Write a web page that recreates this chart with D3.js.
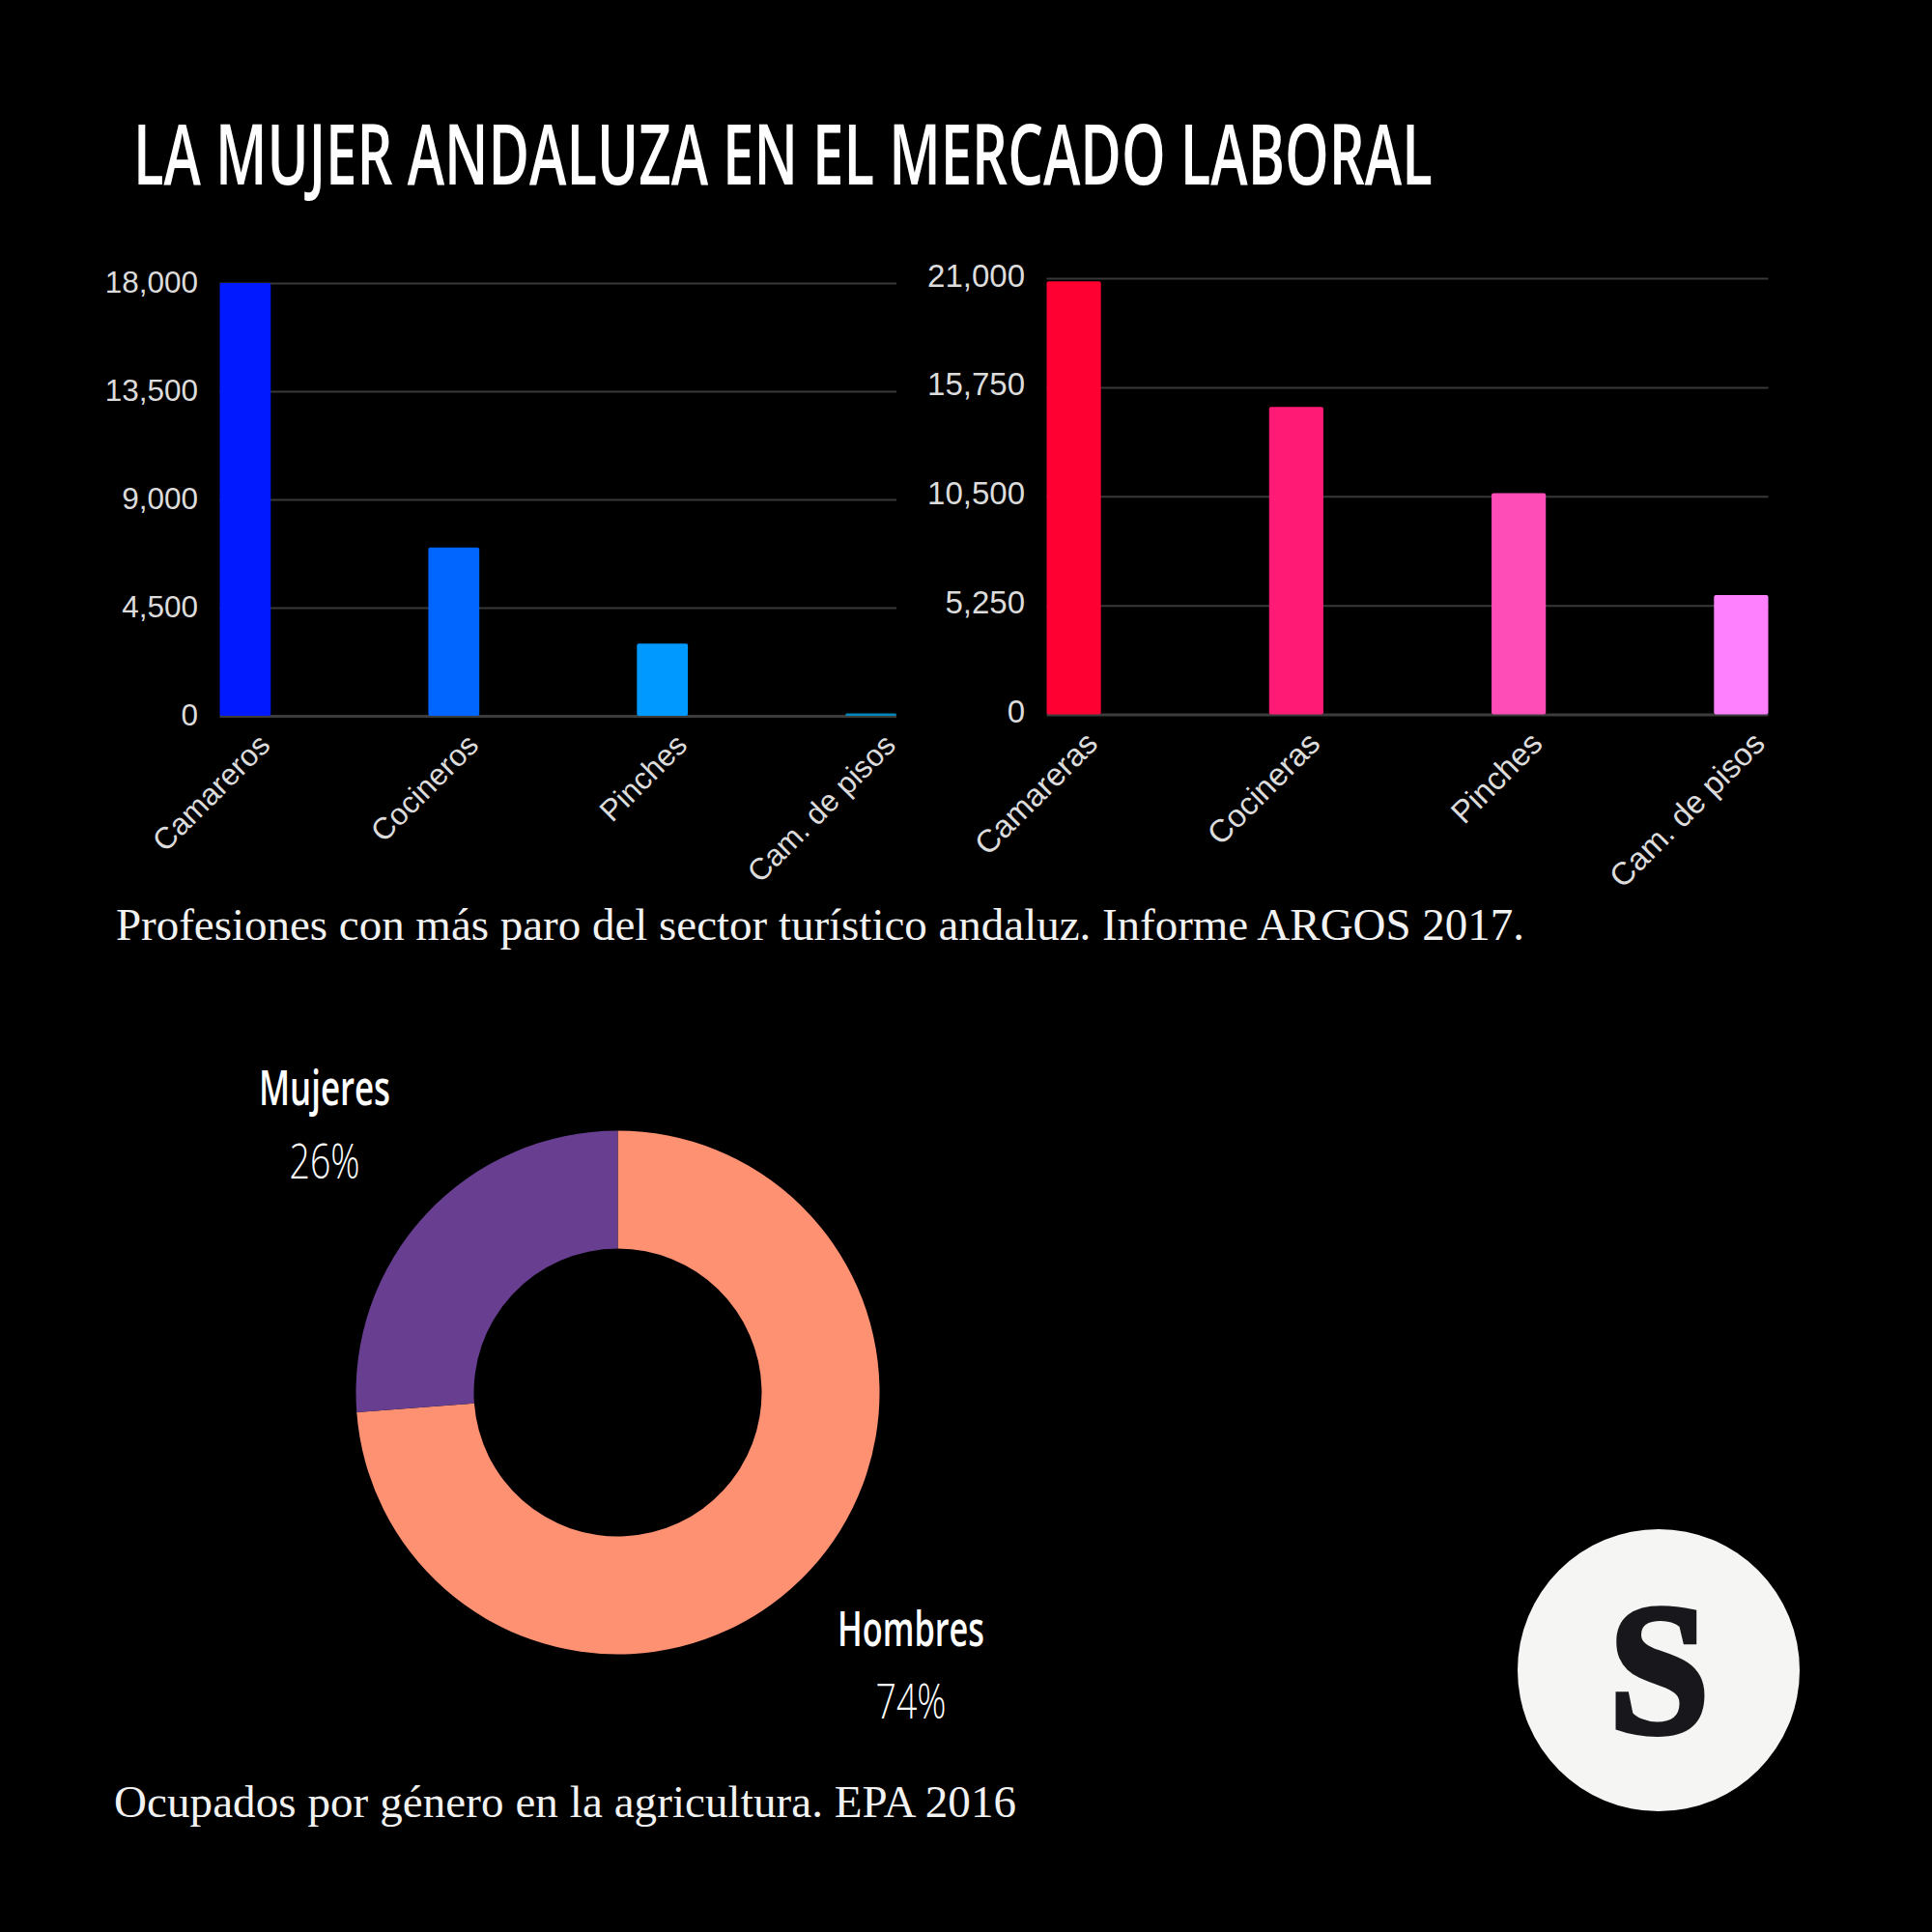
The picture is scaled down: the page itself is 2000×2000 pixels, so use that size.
<!DOCTYPE html>
<html>
<head>
<meta charset="utf-8">
<script src="https://cdn.jsdelivr.net/npm/d3@7"></script>
<style>
  html, body { margin: 0; background: #000; }
  .tick text { fill: #dcdcdc; font-family: "Liberation Sans", sans-serif; }
  .narrow { font-family: "Open Sans", sans-serif; fill: #fff; }
  .serif { font-family: "Liberation Serif", serif; fill: #f2f2f2; }
</style>
</head>
<body>
<div id="chart"></div>
<script>
// Data
var menCategories = ["Camareros", "Cocineros", "Pinches", "Cam. de pisos"];
var menValues = [18000, 7000, 3000, 100];
var menTicks = [0, 4500, 9000, 13500, 18000];
var menColors = ["#0019ff", "#0066ff", "#0099ff", "#0088bb"];

var womenCategories = ["Camareras", "Cocineras", "Pinches", "Cam. de pisos"];
var womenValues = [20850, 14800, 10650, 5750];
var womenTicks = [0, 5250, 10500, 15750, 21000];
var womenColors = ["#ff0033", "#ff1a75", "#ff4db8", "#ff80ff"];

var donutLabels = ["Hombres", "Mujeres"];
var donutValues = [73.8, 26.2];
var donutColors = ["#ff9173", "#673e90"];

var svg = d3.select("#chart")
    .append("svg")
    .attr("width", 2000)
    .attr("height", 2000)
    .style("display", "block");

svg.append("rect").attr("width", 2000).attr("height", 2000).attr("fill", "#000");

// No condensed font is installed, so squeeze the text to the measured width
function squeezed(x, y, size, weight, width, anchor, label) {
    var t = svg.append("text")
        .attr("class", "narrow")
        .attr("font-size", size)
        .attr("font-weight", weight)
        .attr("text-anchor", anchor)
        .text(label);
    var k = width / t.node().getComputedTextLength();
    t.attr("transform", `translate(${x},${y}) scale(${k},1)`);
    return t;
}

// Title
squeezed(138, 191, 87, 600, 1345, "start", "LA MUJER ANDALUZA EN EL MERCADO LABORAL");

function barChart(cats, values, ticks, colors, box) {
    var x = d3.scaleBand()
        .domain(cats)
        .range([box.left, box.right])
        .paddingInner(box.gap)
        .paddingOuter(0);
    var y = d3.scaleLinear()
        .domain([0, d3.max(ticks)])
        .range([box.bottom, box.top]);

    // Grid lines and value labels
    var yAxis = svg.append("g")
        .attr("transform", `translate(${box.left},0)`)
        .call(d3.axisLeft(y)
            .tickValues(ticks)
            .tickSize(-(box.right - box.left))
            .tickPadding(box.left - box.labelEnd)
            .tickFormat(d3.format(",")));
    yAxis.select(".domain").remove();
    yAxis.selectAll(".tick line")
        .attr("stroke", d => d === 0 ? "#3c3c3c" : "#383838")
        .attr("stroke-width", d => d === 0 ? 3 : 2);
    yAxis.selectAll(".tick text")
        .attr("font-size", box.fontSize)
        .attr("transform", `translate(0,${box.labelShift})`);

    svg.append("g").selectAll("rect")
        .data(values)
        .enter()
        .append("rect")
        .attr("x", (d, i) => x(cats[i]))
        .attr("y", d => y(d))
        .attr("width", x.bandwidth())
        .attr("height", d => box.bottom - y(d))
        .attr("rx", 2)
        .attr("fill", (d, i) => colors[i]);

    // Slanted category labels, ending under the right edge of each bar
    var xAxis = svg.append("g")
        .attr("transform", `translate(0,${box.bottom})`)
        .call(d3.axisBottom(x).tickSize(0));
    xAxis.select(".domain").remove();
    xAxis.selectAll(".tick text")
        .attr("font-size", box.fontSize)
        .attr("text-anchor", "end")
        .attr("dy", 0)
        .attr("y", 0)
        .attr("transform", `translate(${x.bandwidth() / 2 + box.slantDx},32) rotate(-45)`);
}

barChart(menCategories, menValues, menTicks, menColors,
    {left: 227.5, right: 928, top: 293, bottom: 741, gap: 0.7555, labelEnd: 205, labelShift: -1, slantDx: 1, fontSize: 31.5});
barChart(womenCategories, womenValues, womenTicks, womenColors,
    {left: 1083.5, right: 1830.5, top: 288, bottom: 739.5, gap: 0.756, labelEnd: 1061, labelShift: -2.5, slantDx: -1.5, fontSize: 33});

// Captions
svg.append("text")
    .attr("class", "serif")
    .attr("x", 120)
    .attr("y", 973)
    .attr("font-size", 47)
    .attr("textLength", 1458)
    .text("Profesiones con más paro del sector turístico andaluz. Informe ARGOS 2017.");

svg.append("text")
    .attr("class", "serif")
    .attr("x", 118)
    .attr("y", 1881)
    .attr("font-size", 47)
    .attr("textLength", 934)
    .text("Ocupados por género en la agricultura. EPA 2016");

// Donut, men first going clockwise from the top
var pie = d3.pie().sort(null);
var arc = d3.arc().innerRadius(149).outerRadius(271);

svg.append("g")
    .attr("transform", "translate(639.5,1441.5)")
    .selectAll("path")
    .data(pie(donutValues))
    .enter()
    .append("path")
    .attr("d", arc)
    .attr("fill", (d, i) => donutColors[i]);

var donutText = [
    {name: donutLabels[0], value: donutValues[0], cx: 943, y1: 1704, y2: 1779, w1: 152},
    {name: donutLabels[1], value: donutValues[1], cx: 336, y1: 1144, y2: 1220, w1: 136}
];
donutText.forEach(function(t) {
    squeezed(t.cx, t.y1, 50, 600, t.w1, "middle", t.name);
    squeezed(t.cx, t.y2, 50, 300, 73, "middle", Math.round(t.value) + "%");
});

// Logo
svg.append("circle")
    .attr("cx", 1717)
    .attr("cy", 1729)
    .attr("r", 146)
    .attr("fill", "#f5f5f3");
svg.append("text")
    .attr("x", 1717.5)
    .attr("y", 1793)
    .attr("text-anchor", "middle")
    .attr("font-family", "Liberation Serif, serif")
    .attr("font-weight", "bold")
    .attr("font-size", 192)
    .attr("textLength", 104)
    .attr("lengthAdjust", "spacingAndGlyphs")
    .attr("fill", "#18171c")
    .attr("stroke", "#18171c")
    .attr("stroke-width", 6)
    .text("S");
</script>
</body>
</html>
